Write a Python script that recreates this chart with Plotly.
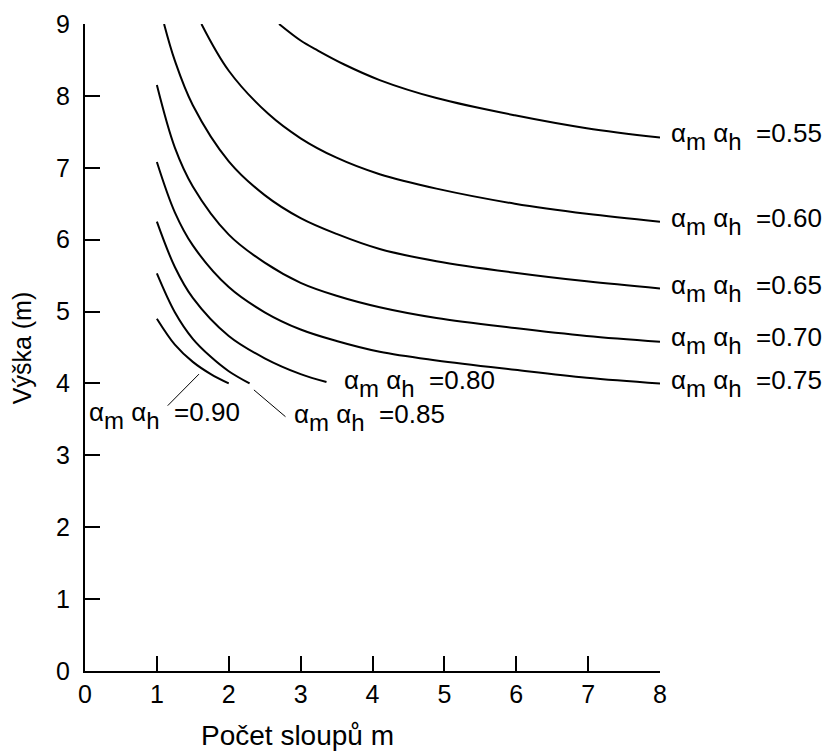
import plotly.graph_objects as go

# Curves: alpha_m*alpha_h values
labels = ["0.55", "0.60", "0.65", "0.70", "0.75", "0.80", "0.85", "0.90"]

x_055 = [2.70, 3.0, 3.24, 3.6, 4.10, 4.89, 5.98, 6.98, 8.0]
y_055 = [9.00, 8.77, 8.63, 8.44, 8.22, 7.97, 7.73, 7.55, 7.42]

x_060 = [1.62, 2.0, 2.55, 3.0, 3.5, 4.10, 4.89, 5.98, 6.98, 8.0]
y_060 = [9.00, 8.35, 7.75, 7.41, 7.14, 6.91, 6.71, 6.50, 6.36, 6.25]

x_065 = [1.10, 1.25, 1.5, 2.0, 2.5, 3.0, 3.5, 4.10, 4.89, 5.98, 6.98, 8.0]
y_065 = [9.00, 8.49, 7.87, 7.09, 6.62, 6.30, 6.08, 5.87, 5.70, 5.54, 5.42, 5.32]

x_070 = [1.0, 1.25, 1.5, 2.0, 2.5, 3.0, 3.5, 4.10, 4.89, 5.98, 6.98, 8.0]
y_070 = [8.15, 7.28, 6.74, 6.07, 5.68, 5.40, 5.22, 5.06, 4.91, 4.77, 4.66, 4.58]

x_075 = [1.0, 1.25, 1.5, 2.0, 2.5, 3.0, 3.5, 4.10, 4.89, 5.98, 6.98, 8.0]
y_075 = [7.08, 6.38, 5.92, 5.34, 4.99, 4.75, 4.59, 4.44, 4.32, 4.19, 4.08, 4.00]

x_080 = [1.0, 1.25, 1.5, 2.0, 2.5, 3.0, 3.36]
y_080 = [6.25, 5.62, 5.19, 4.66, 4.35, 4.13, 4.02]

x_085 = [1.0, 1.25, 1.5, 1.75, 2.0, 2.29]
y_085 = [5.53, 4.99, 4.62, 4.37, 4.17, 4.00]

x_090 = [1.0, 1.25, 1.5, 1.75, 2.0]
y_090 = [4.90, 4.54, 4.30, 4.13, 4.00]

curves_x = [x_055, x_060, x_065, x_070, x_075, x_080, x_085, x_090]
curves_y = [y_055, y_060, y_065, y_070, y_075, y_080, y_085, y_090]

# Label anchor positions: x in plot-fraction (paper) units, y in data units
label_px = [1.016, 1.016, 1.016, 1.016, 1.016, 0.447, 0.360, 0.003]
label_y = [7.43, 6.25, 5.32, 4.60, 4.00, 4.00, 3.52, 3.56]

x_ticks = [0, 1, 2, 3, 4, 5, 6, 7, 8]
x_inner_ticks = [1, 2, 3, 4, 5, 6, 7]
y_ticks = [0, 1, 2, 3, 4, 5, 6, 7, 8, 9]

FONT = "Liberation Sans, Arial, Helvetica, sans-serif"

fig = go.Figure()
for cx, cy, lab in zip(curves_x, curves_y, labels):
    fig.add_trace(go.Scatter(x=cx, y=cy, mode="lines", name=lab,
                             line=dict(color="black", width=2, shape="spline", smoothing=1.0),
                             showlegend=False, hoverinfo="skip"))
# dummy trace to carry the tick-only overlay axis
fig.add_trace(go.Scatter(x=[None], y=[None], xaxis="x2", showlegend=False, hoverinfo="skip"))

sub = lambda s: "<span style='font-size:24px;baseline-shift:-8px'>" + s + "</span>"
for lx, ly, lab in zip(label_px, label_y, labels):
    fig.add_annotation(x=lx, y=ly, xref="paper", yref="y", xanchor="left", yanchor="middle",
                       text="α" + sub("m") + " α" + sub("h") + "  =" + lab,
                       showarrow=False, font=dict(family=FONT, size=26, color="black"))

# leader lines for 0.90 and 0.85
fig.add_annotation(x=1.586, y=4.13, ax=1.13, ay=3.67, axref="x", ayref="y", xref="x", yref="y",
                   text="", showarrow=True, arrowhead=0, arrowwidth=1, arrowcolor="black")
fig.add_annotation(x=2.35, y=3.91, ax=2.81, ay=3.52, axref="x", ayref="y", xref="x", yref="y",
                   text="", showarrow=True, arrowhead=0, arrowwidth=1, arrowcolor="black")

# axis titles
fig.add_annotation(x=0.370, y=-0.099, xref="paper", yref="paper", xanchor="center", yanchor="middle",
                   text="Počet sloupů m", showarrow=False, font=dict(family=FONT, size=28, color="black"))
fig.add_annotation(x=-0.11, y=0.5, xref="paper", yref="paper", xanchor="center", yanchor="middle",
                   text="Výška (m)", textangle=-90, showarrow=False,
                   font=dict(family=FONT, size=25, color="black"))

fig.update_layout(
    width=832, height=753,
    margin=dict(l=85, r=172, t=24, b=82),
    paper_bgcolor="white", plot_bgcolor="white",
    xaxis=dict(range=[0, 8], tickvals=x_ticks, ticktext=[str(v) for v in x_ticks], ticks="",
               showline=True, linecolor="black", linewidth=2, showgrid=False, zeroline=False,
               automargin=False,
               tickfont=dict(family=FONT, size=25, color="black")),
    xaxis2=dict(range=[0, 8], overlaying="x", side="bottom", tickvals=x_inner_ticks, ticks="inside",
                ticklen=15, tickwidth=2, tickcolor="black", showticklabels=False,
                showline=False, showgrid=False, zeroline=False, automargin=False),
    yaxis=dict(range=[0, 9], tickvals=y_ticks, ticks="inside", ticklen=15, tickwidth=2,
               tickcolor="black", showline=True, linecolor="black", linewidth=2,
               showgrid=False, zeroline=False, automargin=False, ticklabelstandoff=8,
               tickfont=dict(family=FONT, size=25, color="black")),
)

fig.write_html("out.html", config={"displayModeBar": False},
               post_script="document.body.style.margin='0';document.body.style.overflow='hidden';")
